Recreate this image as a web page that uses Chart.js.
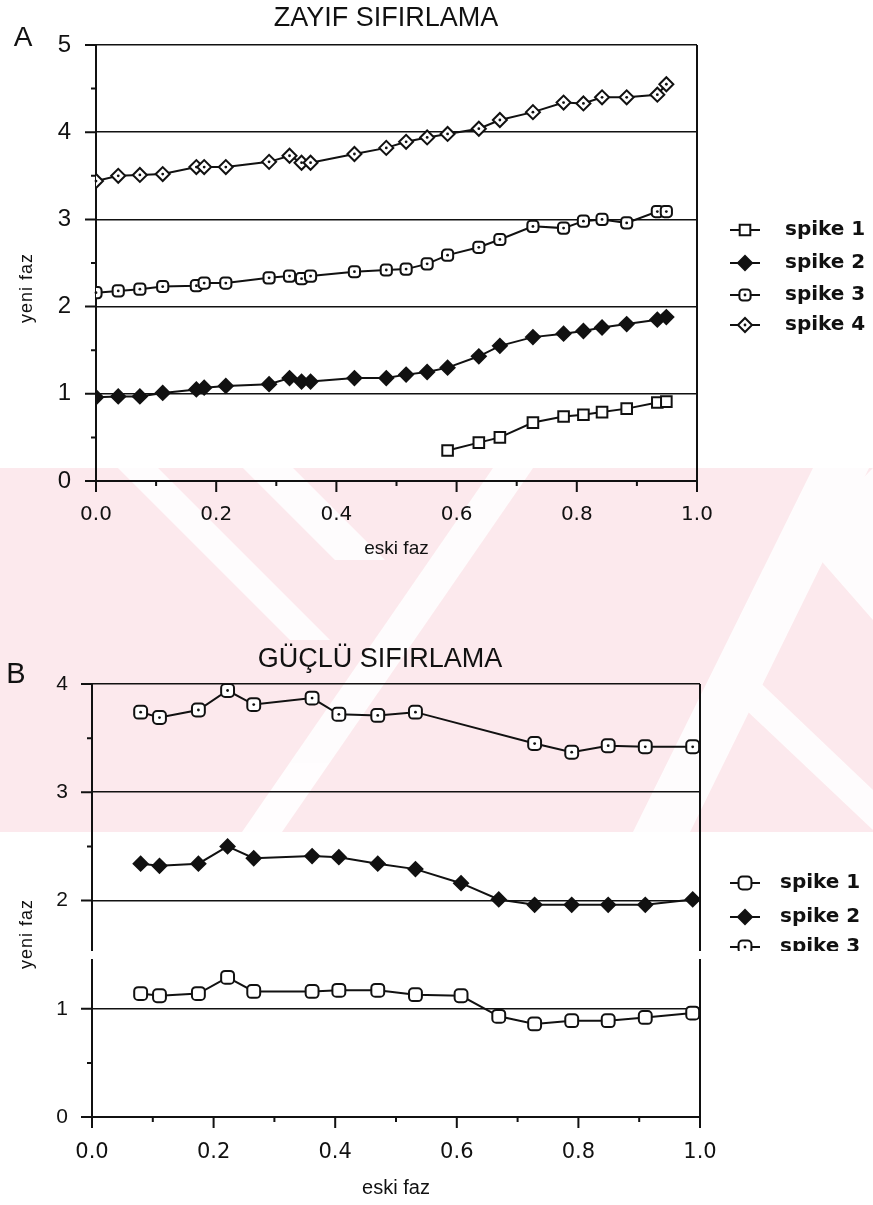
<!DOCTYPE html>
<html>
<head>
<meta charset="utf-8">
<script src="https://cdn.jsdelivr.net/npm/chart.js@4.4.1/dist/chart.umd.min.js"></script>
<style>
  html, body { margin: 0; padding: 0; background: #fff; }
  body { position: relative; width: 873px; height: 1205px; overflow: hidden; font-family: "Liberation Sans", Arial, sans-serif; color: #111; }
  #wm { position: absolute; left: 0; top: 468px; width: 873px; height: 364px; z-index: 0; }
  canvas { position: absolute; left: 0; z-index: 1; }
  #cA { top: 0; }
  #cB { top: 600px; }
  .t { position: absolute; transform: translate(-50%, -50%); line-height: 1; white-space: nowrap; z-index: 2; }
  .ytitle { position: absolute; transform: translate(-50%, -50%) rotate(-90deg); line-height: 1; white-space: nowrap; font-size: 18px; letter-spacing: 1px; z-index: 2; }
  #scanGap { position: absolute; left: 60px; top: 951px; width: 813px; height: 8px; background: #fff; z-index: 3; }
</style>
</head>
<body>
<svg id="wm" width="873" height="364" viewBox="0 468 873 364" xmlns="http://www.w3.org/2000/svg">
  <rect x="0" y="468" width="873" height="364" fill="#fce9ed"/>
  <g fill="#ffffff" opacity="0.9">
    <polygon points="118,468 158,468 330,640 290,640"/>
    <polygon points="243,468 293,468 385,560 335,560"/>
    <polygon points="493,468 533,468 282,832 242,832"/>
    <polygon points="813,468 869,468 690,832 633,832"/>
    <polygon points="745,668 873,790 873,830 725,690"/>
    <polygon points="873,468 873,620 803,540"/>
  </g>
</svg>
<canvas id="cA" width="873" height="570" style="width:873px;height:570px"></canvas>
<canvas id="cB" width="873" height="605" style="width:873px;height:605px"></canvas>
<div id="scanGap"></div>
<div class="t" style="left:23px;top:37px;font-size:28px;">A</div>
<div class="t" style="left:386px;top:17px;font-size:27px;">ZAYIF SIFIRLAMA</div>
<div class="ytitle" style="left:26px;top:288px;">yeni faz</div>
<div class="t" style="left:16px;top:673px;font-size:29px;">B</div>
<div class="t" style="left:380px;top:658px;font-size:27px;">GÜÇLÜ SIFIRLAMA</div>
<div class="ytitle" style="left:26px;top:934px;">yeni faz</div>
<script>
// ---------- DATA: panel A (ZAYIF SIFIRLAMA) ----------
const xA = [0.000, 0.037, 0.073, 0.111, 0.167, 0.180, 0.216, 0.288, 0.322, 0.342, 0.357, 0.430, 0.483, 0.516, 0.551, 0.585, 0.637, 0.672, 0.727, 0.778, 0.811, 0.842, 0.883, 0.934, 0.949];
const spike1A = [null, null, null, null, null, null, null, null, null, null, null, null, null, null, null, 0.35, 0.44, 0.50, 0.67, 0.74, 0.76, 0.79, 0.83, 0.90, 0.91];
const spike2A = [0.96, 0.97, 0.97, 1.01, 1.05, 1.07, 1.09, 1.11, 1.18, 1.14, 1.14, 1.18, 1.18, 1.22, 1.25, 1.30, 1.43, 1.55, 1.65, 1.69, 1.72, 1.76, 1.80, 1.85, 1.88];
const spike3A = [2.16, 2.18, 2.20, 2.23, 2.24, 2.27, 2.27, 2.33, 2.35, 2.32, 2.35, 2.40, 2.42, 2.43, 2.49, 2.59, 2.68, 2.77, 2.92, 2.90, 2.98, 3.00, 2.96, 3.09, 3.09];
const spike4A = [3.44, 3.50, 3.51, 3.52, 3.60, 3.60, 3.60, 3.66, 3.73, 3.65, 3.65, 3.75, 3.82, 3.89, 3.94, 3.98, 4.04, 4.14, 4.23, 4.34, 4.33, 4.40, 4.40, 4.43, 4.55];
const labelsA = ["spike 1", "spike 2", "spike 3", "spike 4"];

// ---------- DATA: panel B (GÜÇLÜ SIFIRLAMA) ----------
const xB = [0.080, 0.111, 0.175, 0.223, 0.266, 0.362, 0.406, 0.470, 0.532, 0.607, 0.669, 0.728, 0.789, 0.849, 0.910, 0.988];
const spike1B = [1.14, 1.12, 1.14, 1.29, 1.16, 1.16, 1.17, 1.17, 1.13, 1.12, 0.93, 0.86, 0.89, 0.89, 0.92, 0.96];
const spike2B = [2.34, 2.32, 2.34, 2.50, 2.39, 2.41, 2.40, 2.34, 2.29, 2.16, 2.01, 1.96, 1.96, 1.96, 1.96, 2.01];
const spike3B = [3.74, 3.69, 3.76, 3.94, 3.81, 3.87, 3.72, 3.71, 3.74, null, null, 3.45, 3.37, 3.43, 3.42, 3.42];
const labelsB = ["spike 1", "spike 2", "spike 3"];

// ---------- axis ticks ----------
const xTickValues = [0, 0.2, 0.4, 0.6, 0.8, 1.0];
const yMaxA = 5, yMaxB = 4;

const INK = '#111';
const pts = (xs, ys) => xs.map((x, i) => ({ x: x, y: ys[i] }));

function series(label, xs, ys, style) {
  return Object.assign({
    label: label,
    data: pts(xs, ys),
    borderColor: INK,
    borderWidth: 2,
    tension: 0,
    fill: false,
    pointBorderColor: INK,
    pointBorderWidth: 2,
    pointHoverRadius: 0
  }, style);
}

// frame plugin: right border, major/minor tick marks
const framePlugin = {
  id: 'frame',
  afterDraw(chart) {
    const { ctx, chartArea: a, scales: { x, y } } = chart;
    ctx.save();
    ctx.strokeStyle = INK;
    ctx.lineWidth = 2;
    ctx.beginPath();
    const xr = x.getPixelForValue(1);
    ctx.moveTo(xr, y.getPixelForValue(y.max));
    ctx.lineTo(xr, y.getPixelForValue(0) + 1);
    for (let i = 0; i <= 10; i++) {
      const px = x.getPixelForValue(i / 10);
      const len = i % 2 === 0 ? 11 : 5;
      ctx.moveTo(px, a.bottom);
      ctx.lineTo(px, a.bottom + len);
    }
    for (let i = 0; i <= y.max * 2; i++) {
      const py = y.getPixelForValue(i / 2);
      const len = i % 2 === 0 ? 11 : 5;
      ctx.moveTo(a.left, py);
      ctx.lineTo(a.left - len, py);
    }
    ctx.stroke();
    ctx.restore();
  }
};

// centre dots for "dotted" markers
const dotPlugin = {
  id: 'dots',
  afterDatasetsDraw(chart) {
    const ctx = chart.ctx;
    ctx.save();
    ctx.fillStyle = INK;
    chart.data.datasets.forEach((ds, i) => {
      if (!ds.dot) return;
      chart.getDatasetMeta(i).data.forEach(p => {
        if (p.skip) return;
        ctx.beginPath();
        ctx.arc(p.x, p.y, 1.4, 0, Math.PI * 2);
        ctx.fill();
      });
    });
    ctx.restore();
  }
};

function drawMarker(ctx, ds, x, y) {
  ctx.fillStyle = ds.pointBackgroundColor;
  ctx.strokeStyle = INK;
  ctx.lineWidth = ds.pointBorderWidth;
  if (Chart.helpers && Chart.helpers.drawPoint) {
    Chart.helpers.drawPoint(ctx, { pointStyle: ds.pointStyle, radius: ds.pointRadius, rotation: 0, borderWidth: ds.pointBorderWidth }, x, y);
  } else {
    const r = ds.pointRadius;
    ctx.beginPath();
    if (ds.pointStyle === 'rectRot') {
      ctx.moveTo(x, y - r); ctx.lineTo(x + r, y); ctx.lineTo(x, y + r); ctx.lineTo(x - r, y); ctx.closePath();
    } else {
      const s = r * 0.8;
      ctx.rect(x - s, y - s, 2 * s, 2 * s);
    }
    ctx.fill(); ctx.stroke();
  }
  if (ds.dot) {
    ctx.fillStyle = INK;
    ctx.beginPath(); ctx.arc(x, y, 1.4, 0, Math.PI * 2); ctx.fill();
  }
}

// custom legend: line + marker + text
const legendPlugin = {
  id: 'sideLegend',
  afterDraw(chart, args, o) {
    const ctx = chart.ctx;
    ctx.save();
    chart.data.datasets.forEach((ds, i) => {
      const y = o.rows[i];
      ctx.strokeStyle = INK;
      ctx.lineWidth = 2;
      ctx.beginPath();
      ctx.moveTo(o.x1, y); ctx.lineTo(o.x2, y); ctx.stroke();
      drawMarker(ctx, ds, (o.x1 + o.x2) / 2, y);
      ctx.fillStyle = INK;
      ctx.font = o.font;
      ctx.textAlign = 'left';
      ctx.textBaseline = 'middle';
      ctx.fillText(ds.label, o.tx, y);
    });
    ctx.restore();
  }
};

function makeOptions(cfg) {
  return {
    responsive: false,
    animation: false,
    events: [],
    layout: { padding: { top: cfg.padTop, right: cfg.padRight, left: 0, bottom: 0 } },
    plugins: {
      legend: { display: false },
      tooltip: { enabled: false },
      title: { display: false },
      sideLegend: cfg.legend
    },
    scales: {
      x: {
        type: 'linear',
        min: 0, max: 1,
        afterFit: s => { s.height = cfg.xHeight; },
        afterBuildTicks: s => { s.ticks = xTickValues.map(v => ({ value: v })); },
        ticks: {
          padding: cfg.xTickPad,
          color: INK,
          font: { family: '"DejaVu Sans"', size: cfg.xTickSize },
          maxRotation: 0,
          callback: v => Number(v).toFixed(1)
        },
        grid: { display: false, drawTicks: false },
        border: { display: true, color: INK, width: 2 },
        title: {
          display: true,
          text: 'eski faz',
          color: INK,
          font: { family: '"Liberation Sans"', size: cfg.xTitleSize },
          padding: { top: 0, bottom: cfg.xTitlePad }
        }
      },
      y: {
        type: 'linear',
        min: 0, max: cfg.yMax,
        afterFit: s => { s.width = cfg.yWidth; },
        ticks: {
          stepSize: 1,
          padding: cfg.yTickPad,
          color: INK,
          font: { family: '"Liberation Sans"', size: cfg.yTickSize },
          callback: v => String(v)
        },
        grid: { display: true, drawTicks: false, color: INK, lineWidth: 1.6 },
        border: { display: true, color: INK, width: 2 }
      }
    }
  };
}

new Chart(document.getElementById('cA'), {
  type: 'line',
  data: {
    datasets: [
      series(labelsA[0], xA, spike1A, { pointStyle: 'rect', pointRadius: 7.5, pointBackgroundColor: '#fff' }),
      series(labelsA[1], xA, spike2A, { pointStyle: 'rectRot', pointRadius: 7, pointBackgroundColor: INK }),
      series(labelsA[2], xA, spike3A, { pointStyle: 'rectRounded', pointRadius: 6.5, pointBackgroundColor: '#fff', dot: true }),
      series(labelsA[3], xA, spike4A, { pointStyle: 'rectRot', pointRadius: 7, pointBackgroundColor: '#fff', dot: true })
    ]
  },
  options: makeOptions({
    padTop: 45, padRight: 176, xHeight: 89, yWidth: 96, yMax: yMaxA,
    xTickPad: 22, xTickSize: 20, xTitleSize: 19, xTitlePad: 10,
    yTickPad: 25, yTickSize: 24,
    legend: { x1: 730, x2: 760, tx: 785, rows: [230, 263, 295, 325], font: 'bold 20px "DejaVu Sans"' }
  }),
  plugins: [framePlugin, dotPlugin, legendPlugin]
});

new Chart(document.getElementById('cB'), {
  type: 'line',
  data: {
    datasets: [
      series(labelsB[0], xB, spike1B, { pointStyle: 'rectRounded', pointRadius: 7.5, pointBackgroundColor: '#fff' }),
      series(labelsB[1], xB, spike2B, { pointStyle: 'rectRot', pointRadius: 7, pointBackgroundColor: INK }),
      series(labelsB[2], xB, spike3B, { pointStyle: 'rectRounded', pointRadius: 7.5, pointBackgroundColor: '#fff', dot: true, spanGaps: true })
    ]
  },
  options: makeOptions({
    padTop: 84, padRight: 173, xHeight: 88, yWidth: 92, yMax: yMaxB,
    xTickPad: 23, xTickSize: 21, xTitleSize: 20, xTitlePad: 5,
    yTickPad: 24, yTickSize: 21,
    legend: { x1: 730, x2: 760, tx: 780, rows: [283, 317, 347], font: 'bold 20px "DejaVu Sans"' }
  }),
  plugins: [framePlugin, dotPlugin, legendPlugin]
});
</script>
</body>
</html>
